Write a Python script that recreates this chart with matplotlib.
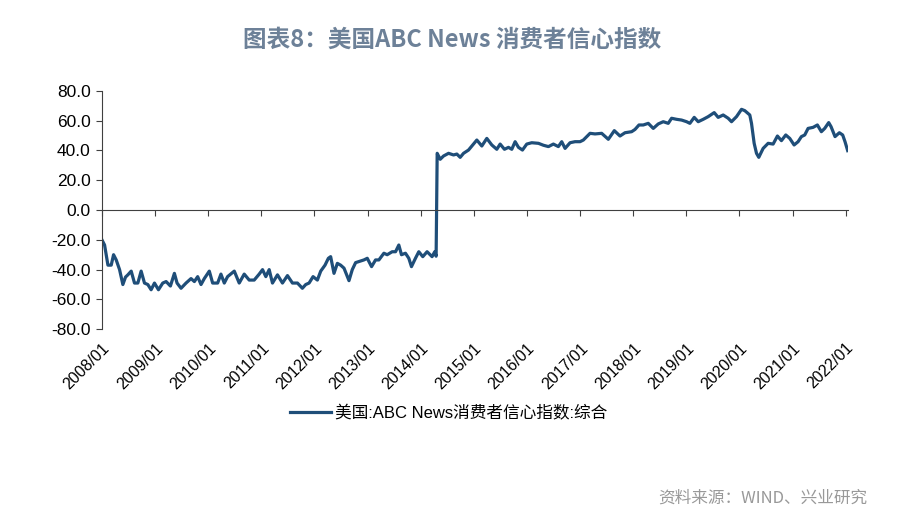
import numpy as np
import matplotlib
matplotlib.use('Agg')
import matplotlib.pyplot as plt

plt.rcParams['font.family'] = ['Liberation Sans', 'Noto Sans CJK SC', 'DejaVu Sans']
plt.rcParams['axes.unicode_minus'] = False

# time in decimal years
t_old = [2008.000, 2008.050, 2008.113, 2008.175, 2008.219, 2008.269, 2008.332, 2008.394,
         2008.444, 2008.488, 2008.551, 2008.613, 2008.676, 2008.738, 2008.801, 2008.864,
         2008.926, 2008.989, 2009.064, 2009.145, 2009.208, 2009.289, 2009.364, 2009.414,
         2009.489, 2009.583, 2009.677, 2009.740, 2009.802, 2009.865, 2009.927, 2010.021,
         2010.084, 2010.178, 2010.240, 2010.303, 2010.365, 2010.491, 2010.584, 2010.678,
         2010.772, 2010.866, 2010.960, 2011.023, 2011.085, 2011.148, 2011.210, 2011.304,
         2011.398, 2011.492, 2011.586, 2011.680, 2011.773, 2011.836, 2011.899, 2011.974,
         2012.055, 2012.118, 2012.199, 2012.262, 2012.305, 2012.368, 2012.431, 2012.493,
         2012.556, 2012.650, 2012.712, 2012.775, 2012.837, 2012.931, 2012.994, 2013.075,
         2013.150, 2013.213, 2013.307, 2013.369, 2013.463, 2013.526, 2013.588, 2013.638,
         2013.713, 2013.776, 2013.826, 2013.901, 2013.964, 2014.039, 2014.120, 2014.214,
         2014.264, 2014.290]
v_old = [-20, -23.5, -37, -37, -30, -33.5, -40, -50,
         -45, -43.5, -41, -49, -49, -41, -49, -50,
         -53.5, -49, -53.5, -49, -48, -51, -42.5, -49,
         -52.5, -49, -46, -48, -44.7, -50, -46, -41,
         -49, -49, -43, -49, -44.7, -41, -49, -43,
         -47, -47, -43, -40, -44.7, -40, -49, -43.5,
         -49, -44, -49, -49, -52.5, -50, -49, -44.7,
         -47, -41, -37, -32.4, -31.3, -42.5, -35.8, -37,
         -39, -47.4, -40, -35.3, -34.6, -33.5, -32.4, -38,
         -33.5, -33.5, -29, -30, -28, -28, -23.5, -30,
         -29, -32.4, -38, -32.4, -28, -31.3, -28, -31.3,
         -28, -31]

t_new = [2014.310, 2014.367, 2014.430, 2014.524, 2014.618, 2014.680, 2014.743, 2014.806,
         2014.900, 2014.962, 2015.056, 2015.150, 2015.244, 2015.338, 2015.432, 2015.495,
         2015.576, 2015.652, 2015.714, 2015.777, 2015.840, 2015.915, 2015.996, 2016.090,
         2016.216, 2016.310, 2016.404, 2016.497, 2016.591, 2016.654, 2016.717, 2016.811,
         2016.905, 2016.999, 2017.061, 2017.124, 2017.187, 2017.281, 2017.406, 2017.531,
         2017.644, 2017.751, 2017.845, 2017.970, 2018.033, 2018.108, 2018.189, 2018.283,
         2018.377, 2018.471, 2018.565, 2018.659, 2018.722, 2018.816, 2018.910, 2019.004,
         2019.066, 2019.148, 2019.223, 2019.317, 2019.411, 2019.524, 2019.599, 2019.693,
         2019.787, 2019.850, 2019.944, 2020.038, 2020.100, 2020.194, 2020.226, 2020.276,
         2020.320, 2020.363, 2020.445, 2020.539, 2020.633, 2020.714, 2020.789, 2020.871,
         2020.946, 2021.028, 2021.103, 2021.165, 2021.228, 2021.291, 2021.385, 2021.466,
         2021.541, 2021.604, 2021.679, 2021.723, 2021.798, 2021.880, 2021.942, 2021.986,
         2022.036]
v_new = [38, 34, 36.2, 38, 36.9, 37.5, 35.3, 38,
         40.2, 42.9, 46.9, 42.9, 48, 43.6, 40.7, 44.2,
         40.7, 42, 40.7, 45.8, 42, 40.2, 44.2, 45.1,
         44.7, 43.4, 42.5, 44.2, 42.5, 45.8, 41.3, 45.1,
         45.8, 45.8, 46.9, 49.2, 51.4, 51, 51.4, 47.4,
         53.2, 49.6, 51.8, 52.5, 54, 57, 57, 58.1,
         54.7, 57.7, 59.2, 58.1, 61.5, 60.8, 60.3, 59.2,
         58.1, 62.1, 59.2, 60.8, 62.6, 65.3, 62.1, 63.7,
         61.5, 59.2, 62.6, 67.5, 66.6, 63.7, 58.1, 44.7,
         38, 35.3, 41.3, 44.7, 44.2, 49.6, 46.5, 50.3,
         48, 43.6, 45.8, 49.2, 50.3, 54.7, 55.4, 57,
         52.5, 54.7, 58.6, 55.9, 49.2, 51.8, 50.3, 45.8,
         39.8]

years = list(range(2008, 2023))
year_labels = ['%d/01' % y for y in years]
y_ticks = [80, 60, 40, 20, 0, -20, -40, -60, -80]
y_labels = ['%.1f' % v for v in y_ticks]
series_name = '美国:ABC News消费者信心指数:综合'

t = np.array(t_old + t_new)
v = np.array(v_old + v_new)

fig = plt.figure(figsize=(9.02, 5.26), dpi=100)
ax = fig.add_axes([0.113, 0.374, 0.827, 0.4536])

ax.plot(t, v, color='#1f4e79', lw=2.3, label=series_name)

ax.set_xlim(2008.0, 2022.04)
ax.set_ylim(-80, 80)

for s in ['top', 'right']:
    ax.spines[s].set_visible(False)
ax.spines['bottom'].set_position(('data', 0))
ax.spines['bottom'].set_color('#404040')
ax.spines['left'].set_color('#404040')

ax.set_xticks(years)
ax.tick_params(axis='x', direction='out', length=4, color='#404040', labelbottom=False)
ax.set_yticks(y_ticks)
ax.set_yticklabels(y_labels, fontsize=12.5)
ax.tick_params(axis='y', direction='out', length=4, color='#404040', pad=4)

sec = ax.secondary_xaxis(0)
sec.set_xticks(years)
sec.set_xticklabels(year_labels, rotation=45, ha='right', rotation_mode='anchor', fontsize=11.5)
sec.tick_params(length=0, pad=8)
sec.spines['bottom'].set_visible(False)

fig.text(0.501, 0.924, '图表8：美国ABC News 消费者信心指数', ha='center', va='center',
         fontsize=17, color='#6d8198', fontweight='bold',
         family=['Noto Sans CJK SC', 'DejaVu Sans'])

fig.legend(loc='center', bbox_to_anchor=(0.497, 0.215), frameon=False,
           handlelength=2.5, fontsize=12, handletextpad=0.2)

fig.text(0.962, 0.053, '资料来源：WIND、兴业研究', ha='right', va='center',
         fontsize=12, color='#999999', family=['Noto Sans CJK SC', 'DejaVu Sans'])

plt.savefig('out.png', dpi=100)
